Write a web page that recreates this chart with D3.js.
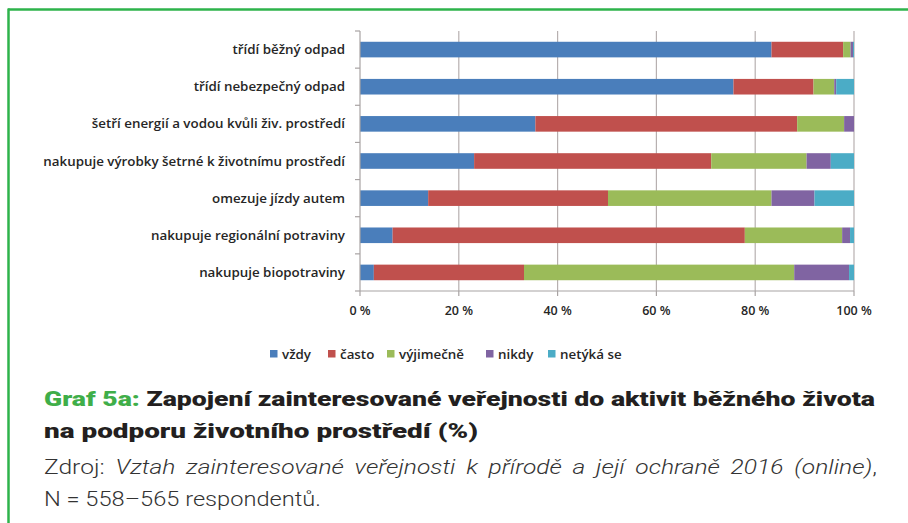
<!DOCTYPE html>
<html><head><meta charset="utf-8">
<script src="https://cdn.jsdelivr.net/npm/d3@7"></script>
<style>body{margin:0;background:#fff}svg{display:block}</style>
</head><body>
<svg id="c" width="908" height="523"></svg>
<script>
const categories = [
  "třídí běžný odpad",
  "třídí nebezpečný odpad",
  "šetří energií a vodou kvůli živ. prostředí",
  "nakupuje výrobky šetrné k životnímu prostředí",
  "omezuje jízdy autem",
  "nakupuje regionální potraviny",
  "nakupuje biopotraviny"
];
const seriesNames = ["vždy","často","výjimečně","nikdy","netýká se"];
const vzdy      = [83.3, 75.6, 35.5, 23.1, 13.8,  6.6,  2.8];
const casto     = [14.5, 16.2, 53.0, 48.0, 36.4, 71.3, 30.4];
const vyjimecne = [ 1.5,  4.2,  9.5, 19.3, 33.1, 19.7, 54.7];
const nikdy     = [ 0.5,  0.4,  2.0,  4.9,  8.7,  1.6, 11.1];
const netyka    = [ 0.2,  3.6,  0.0,  4.7,  8.0,  0.8,  1.0];
const tickLabels = ["0 %","20 %","40 %","60 %","80 %","100 %"];
const tickValues = [0,20,40,60,80,100];
const colors = ["#4a7ebb","#c0504d","#9bbb59","#8064a2","#4bacc6"];

const seriesValues = [vzdy, casto, vyjimecne, nikdy, netyka];
const rows = categories.map((c,i)=>{
  const o = {cat:c};
  seriesNames.forEach((s,j)=>o[s]=seriesValues[j][i]);
  return o;
});

const svg = d3.select("#c");
// frame
svg.append("line").attr("x1",8).attr("x2",908).attr("y1",9.5).attr("y2",9.5)
  .attr("stroke","#2eb34b").attr("stroke-width",2.5);
svg.append("line").attr("x1",8.5).attr("x2",8.5).attr("y1",8.5).attr("y2",523)
  .attr("stroke","#2eb34b").attr("stroke-width",2.5);

const x = d3.scaleLinear().domain([0,100]).range([360,854]);
const y = d3.scaleBand().domain(categories).range([31,291]).paddingInner(0.58).paddingOuter(0.29);
const yb = d3.scaleBand().domain(categories).range([31,291]);

const labelFont = "'Open Sans', Lato, sans-serif";
const labelColor = "#262626";

// gridlines
svg.append("g").selectAll("line").data(tickValues.slice(1)).join("line")
  .attr("x1",d=>x(d)).attr("x2",d=>x(d)).attr("y1",31).attr("y2",291)
  .attr("stroke","#b7b0b0").attr("stroke-width",1.2);

// bars
const stack = d3.stack().keys(seriesNames)(rows);
svg.append("g").selectAll("g").data(stack).join("g")
  .attr("fill",(d,i)=>colors[i])
  .selectAll("rect").data(d=>d).join("rect")
  .attr("x",d=>x(d[0])).attr("width",d=>Math.max(0,x(d[1])-x(d[0])))
  .attr("y",d=>y(d.data.cat)).attr("height",y.bandwidth());

// y axis
const ya = svg.append("g").attr("transform","translate(360,0)");
ya.append("line").attr("x1",0).attr("x2",0).attr("y1",31).attr("y2",291).attr("stroke","#a8a3a3").attr("stroke-width",1.2);
const bounds = categories.map(c=>yb(c)).concat([291]);
ya.selectAll("line.t").data(bounds).join("line").attr("class","t")
  .attr("x1",-5).attr("x2",0).attr("y1",d=>d).attr("y2",d=>d).attr("stroke","#a8a3a3").attr("stroke-width",1.2);
const labs = svg.append("g").selectAll("text").data(categories).join("text")
  .attr("x",345).attr("y",d=>yb(d)+yb.bandwidth()/2+4.5)
  .attr("text-anchor","end").attr("font-family",labelFont).attr("font-weight",600)
  .attr("font-size",13).attr("fill",labelColor).text(d=>d);
// fit longest label width (~302px)
let maxW = 0; labs.each(function(){maxW=Math.max(maxW,this.getComputedTextLength());});
const lfs = 13*302/maxW;
labs.attr("font-size",lfs);

// x axis
const xa = svg.append("g").attr("transform","translate(0,291)");
xa.append("line").attr("x1",360).attr("x2",854).attr("stroke","#a8a3a3").attr("stroke-width",1.2);
xa.selectAll("line.t").data(tickValues).join("line").attr("class","t")
  .attr("x1",d=>x(d)).attr("x2",d=>x(d)).attr("y1",0).attr("y2",5).attr("stroke","#a8a3a3").attr("stroke-width",1.2);
xa.selectAll("text").data(tickValues).join("text")
  .attr("x",d=>x(d)).attr("y",24).attr("text-anchor","middle")
  .attr("font-family",labelFont).attr("font-weight",600).attr("font-size",12.5).attr("fill",labelColor)
  .text((d,i)=>tickLabels[i]);

// legend
const legX = [270,328,387,486,548];
const lg = svg.append("g").selectAll("g").data(seriesNames).join("g")
  .attr("transform",(d,i)=>`translate(${legX[i]},354)`);
lg.append("rect").attr("x",0).attr("y",-4).attr("width",7.5).attr("height",7.5).attr("fill",(d,i)=>colors[i]);
lg.append("text").attr("x",12).attr("y",4.5).attr("font-family",labelFont).attr("font-weight",600)
  .attr("font-size",lfs).attr("fill",labelColor).text(d=>d);

// title
const tFont = "Roboto, 'Open Sans', sans-serif";
const t1 = svg.append("text").attr("x",44).attr("y",406).attr("font-family",tFont)
  .attr("font-weight",900).attr("font-size",21).attr("fill","#231f20")
  .attr("textLength",831).attr("lengthAdjust","spacingAndGlyphs");
t1.append("tspan").attr("fill","#3fae49").text("Graf 5a: ");
t1.append("tspan").text("Zapojení zainteresované veřejnosti do aktivit běžného života");
svg.append("text").attr("x",44).attr("y",438).attr("font-family",tFont)
  .attr("font-weight",900).attr("font-size",21).attr("fill","#231f20")
  .attr("textLength",434).attr("lengthAdjust","spacingAndGlyphs")
  .text("na podporu životního prostředí (%)");

// source
const s1 = svg.append("text").attr("x",44).attr("y",474).attr("font-family",tFont)
  .attr("font-weight",300).attr("font-size",20.5).attr("fill","#333").attr("word-spacing",4)
  .attr("textLength",833).attr("lengthAdjust","spacingAndGlyphs");
s1.append("tspan").text("Zdroj: ");
s1.append("tspan").attr("font-style","italic").text("Vztah zainteresované veřejnosti k přírodě a její ochraně 2016 (online)");
s1.append("tspan").text(",");
svg.append("text").attr("x",44).attr("y",506).attr("font-family",tFont)
  .attr("font-weight",300).attr("font-size",20.5).attr("fill","#333")
  .attr("textLength",277).attr("lengthAdjust","spacingAndGlyphs")
  .text("N = 558–565 respondentů.");
</script>
</body></html>
